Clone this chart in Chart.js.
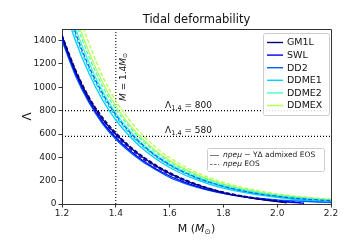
<!DOCTYPE html>
<html>
<head>
<meta charset="utf-8">
<script src="https://cdn.jsdelivr.net/npm/chart.js@4.4.0/dist/chart.umd.min.js"></script>
<style>
  html, body { margin: 0; padding: 0; background: #fff; }
  #wrap { width: 351px; height: 248px; }
</style>
</head>
<body>
<div id="wrap"><canvas id="tidal" width="351" height="248"></canvas></div>
<script>
// masses on the common grid
const massGrid = [1.2, 1.25, 1.3, 1.35, 1.4, 1.45, 1.5, 1.55, 1.6, 1.65, 1.7, 1.75, 1.8, 1.85, 1.9, 1.95, 2.0, 2.05, 2.1, 2.15, 2.2];
const gm1lMass = [1.2, 1.25, 1.3, 1.35, 1.4, 1.45, 1.5, 1.55, 1.6, 1.65, 1.7, 1.75, 1.8, 1.85, 1.9, 1.95, 2.0, 2.035];
const swlMass = [1.2, 1.25, 1.3, 1.35, 1.4, 1.45, 1.5, 1.55, 1.6, 1.65, 1.7, 1.75, 1.8, 1.85, 1.9, 1.95, 2.0, 2.05, 2.1];

// Lambda values (solid = admixed, dashed = npeμ)
const gm1lSolid  = [1440, 1140, 905, 730, 600, 490, 400, 325, 262, 210, 166, 129, 98, 73, 52, 35, 21, 10];
const gm1lDashed = [1450, 1155, 920, 745, 612, 500, 410, 333, 270, 216, 171, 133, 102, 76, 54, 37, 23, 12];
const swlSolid   = [1420, 1120, 885, 705, 570, 462, 373, 300, 240, 192, 152, 119, 92, 70, 52, 37, 25, 15, 6];
const swlDashed  = [1440, 1140, 905, 725, 590, 480, 390, 316, 255, 205, 163, 129, 101, 78, 59, 43, 30, 19, 9];
const dd2Solid   = [1400, 1100, 870, 690, 555, 450, 362, 292, 228, 182, 145, 115, 91, 72, 57, 45, 35, 28, 22, 17, 13];
const dd2Dashed  = [1830, 1470, 1180, 950, 765, 620, 505, 412, 337, 276, 226, 185, 151, 123, 100, 81, 66, 53, 43, 35, 28];
const ddme1Solid  = [1750, 1400, 1120, 895, 720, 583, 473, 385, 313, 255, 208, 169, 137, 111, 89, 71, 56, 43, 32, 22, 14];
const ddme1Dashed = [1800, 1445, 1160, 930, 750, 608, 495, 404, 330, 270, 221, 181, 148, 120, 97, 78, 62, 49, 38, 29, 22];
const ddme2Solid  = [1880, 1510, 1215, 970, 780, 633, 515, 420, 344, 282, 232, 191, 157, 129, 106, 87, 71, 58, 47, 38, 31];
const ddme2Dashed = [1950, 1570, 1265, 1012, 815, 662, 540, 441, 361, 297, 245, 202, 166, 137, 113, 93, 76, 62, 51, 42, 34];
const ddmexSolid  = [2000, 1615, 1305, 1045, 840, 683, 557, 455, 374, 308, 254, 209, 172, 142, 117, 96, 79, 65, 54, 45, 37];
const ddmexDashed = [2100, 1700, 1380, 1100, 885, 722, 590, 482, 397, 328, 271, 224, 185, 153, 127, 105, 87, 72, 60, 50, 42];

const modelNames = ["GM1L", "SWL", "DD2", "DDME1", "DDME2", "DDMEX"];
const modelColors = ["#00007f", "#0000f0", "#0061ff", "#00d1ff", "#42ffbd", "#b3ff4d"];

const xTicks = [1.2, 1.4, 1.6, 1.8, 2.0, 2.2];
const yTicks = [0, 200, 400, 600, 800, 1000, 1200, 1400];
const lambdaRefs = [800, 580];
const massRef = 1.4;

const pts = (ms, vs) => vs.map((v, i) => ({ x: ms[i], y: v }));

function curve(label, ms, vs, color, dashed) {
  return {
    label,
    data: pts(ms, vs),
    borderColor: color,
    borderWidth: 1.3,
    borderDash: dashed ? [4, 2] : [],
    pointRadius: 0,
    fill: false,
    cubicInterpolationMode: "monotone"
  };
}

function refLine(data) {
  return {
    label: "ref",
    data,
    borderColor: "#000",
    borderWidth: 1.1,
    borderDash: [1, 2],
    pointRadius: 0,
    fill: false
  };
}

const datasets = [
  curve("GM1L", gm1lMass, gm1lSolid, modelColors[0], false),
  curve("GM1L npeμ", gm1lMass, gm1lDashed, modelColors[0], true),
  curve("SWL", swlMass, swlSolid, modelColors[1], false),
  curve("SWL npeμ", swlMass, swlDashed, modelColors[1], true),
  curve("DD2", massGrid, dd2Solid, modelColors[2], false),
  curve("DD2 npeμ", massGrid, dd2Dashed, modelColors[2], true),
  curve("DDME1", massGrid, ddme1Solid, modelColors[3], false),
  curve("DDME1 npeμ", massGrid, ddme1Dashed, modelColors[3], true),
  curve("DDME2", massGrid, ddme2Solid, modelColors[4], false),
  curve("DDME2 npeμ", massGrid, ddme2Dashed, modelColors[4], true),
  curve("DDMEX", massGrid, ddmexSolid, modelColors[5], false),
  curve("DDMEX npeμ", massGrid, ddmexDashed, modelColors[5], true),
  refLine([{ x: 1.2, y: lambdaRefs[0] }, { x: 2.2, y: lambdaRefs[0] }]),
  refLine([{ x: 1.2, y: lambdaRefs[1] }, { x: 2.2, y: lambdaRefs[1] }]),
  refLine([{ x: massRef, y: 0 }, { x: massRef, y: 1500 }])
];

const FONT = "'DejaVu Sans', sans-serif";

// draws "Λ_1.4 = value"
function lambdaLabel(ctx, x, y, value) {
  ctx.font = `9px ${FONT}`;
  ctx.textAlign = "left";
  ctx.textBaseline = "alphabetic";
  ctx.fillText("Λ", x, y);
  let w = ctx.measureText("Λ").width;
  ctx.font = `6.5px ${FONT}`;
  ctx.fillText("1.4", x + w, y + 2);
  w += ctx.measureText("1.4").width;
  ctx.font = `9px ${FONT}`;
  ctx.fillText(" = " + value, x + w, y);
}

function roundBox(ctx, x, y, w, h) {
  ctx.beginPath();
  ctx.roundRect(x, y, w, h, 2);
  ctx.fillStyle = "rgba(255,255,255,0.85)";
  ctx.fill();
  ctx.strokeStyle = "#cccccc";
  ctx.lineWidth = 1;
  ctx.stroke();
}

const decorPlugin = {
  id: "decor",
  afterDraw(chart) {
    const { ctx, chartArea: a, scales } = chart;
    ctx.save();

    // top and right spines
    ctx.strokeStyle = "#333";
    ctx.lineWidth = 1;
    ctx.beginPath();
    ctx.moveTo(a.left, a.top + 0.5);
    ctx.lineTo(a.right + 0.5, a.top + 0.5);
    ctx.lineTo(a.right + 0.5, a.bottom);
    ctx.stroke();

    ctx.fillStyle = "#111";
    // title
    ctx.font = `11.5px ${FONT}`;
    ctx.textAlign = "center";
    ctx.textBaseline = "middle";
    ctx.fillText("Tidal deformability", (a.left + a.right) / 2, 20);

    // x title: M (M_⊙)
    ctx.font = `11px ${FONT}`;
    ctx.textAlign = "left";
    ctx.textBaseline = "alphabetic";
    const cx = (a.left + a.right) / 2;
    const parts = [["M (", `11px ${FONT}`, 0], ["M", `italic 11px ${FONT}`, 0], ["⊙", `7.5px ${FONT}`, 2], [")", `11px ${FONT}`, 0]];
    let tw = 0;
    parts.forEach(p => { ctx.font = p[1]; tw += ctx.measureText(p[0]).width; });
    let px = cx - tw / 2;
    parts.forEach(p => { ctx.font = p[1]; ctx.fillText(p[0], px, 232 + p[2]); px += ctx.measureText(p[0]).width; });

    // y title
    ctx.save();
    ctx.translate(28, (a.top + a.bottom) / 2);
    ctx.rotate(-Math.PI / 2);
    ctx.font = `12px ${FONT}`;
    ctx.textAlign = "center";
    ctx.textBaseline = "middle";
    ctx.fillText("Λ", 0, 0);
    ctx.restore();

    // reference labels
    const lx = scales.x.getPixelForValue(1.583);
    lambdaLabel(ctx, lx, scales.y.getPixelForValue(lambdaRefs[0]) - 3, lambdaRefs[0]);
    lambdaLabel(ctx, lx, scales.y.getPixelForValue(lambdaRefs[1]) - 3, lambdaRefs[1]);

    // vertical label M = 1.4M_⊙
    ctx.save();
    ctx.translate(scales.x.getPixelForValue(massRef) + 8, 101);
    ctx.rotate(-Math.PI / 2);
    ctx.textBaseline = "middle";
    ctx.textAlign = "left";
    ctx.font = `italic 9px ${FONT}`;
    ctx.fillText("M", 0, 0);
    let vx = ctx.measureText("M").width;
    ctx.font = `9px ${FONT}`;
    ctx.fillText(" = 1.4", vx, 0);
    vx += ctx.measureText(" = 1.4").width;
    ctx.font = `italic 9px ${FONT}`;
    ctx.fillText("M", vx, 0);
    vx += ctx.measureText("M").width;
    ctx.font = `6px ${FONT}`;
    ctx.fillText("⊙", vx, 2);
    ctx.restore();

    // model legend
    roundBox(ctx, 263.5, 33.5, 66, 82);
    modelNames.forEach((name, i) => {
      const y = 42.5 + i * 12.6;
      ctx.strokeStyle = modelColors[i];
      ctx.lineWidth = 1.4;
      ctx.setLineDash([]);
      ctx.beginPath();
      ctx.moveTo(267, y);
      ctx.lineTo(283, y);
      ctx.stroke();
      ctx.fillStyle = "#111";
      ctx.font = `9.5px ${FONT}`;
      ctx.textAlign = "left";
      ctx.textBaseline = "middle";
      ctx.fillText(name, 287, y + 0.5);
    });

    // line style legend
    roundBox(ctx, 207.5, 148.5, 117, 23);
    const styles = [[[], "npeμ", " − YΔ admixed EOS", 155.5], [[2.5, 1.5], "npeμ", " EOS", 164.5]];
    styles.forEach(s => {
      ctx.strokeStyle = "#777";
      ctx.lineWidth = 1;
      ctx.setLineDash(s[0]);
      ctx.beginPath();
      ctx.moveTo(210, s[3]);
      ctx.lineTo(219, s[3]);
      ctx.stroke();
      ctx.setLineDash([]);
      ctx.fillStyle = "#222";
      ctx.textBaseline = "middle";
      ctx.textAlign = "left";
      ctx.font = `italic 7.5px ${FONT}`;
      ctx.fillText(s[1], 223, s[3]);
      const w = ctx.measureText(s[1]).width;
      ctx.font = `7.5px ${FONT}`;
      ctx.fillText(s[2], 223 + w, s[3]);
    });

    ctx.restore();
  }
};

new Chart(document.getElementById("tidal"), {
  type: "line",
  data: { datasets },
  options: {
    responsive: false,
    animation: false,
    devicePixelRatio: 1,
    layout: { padding: { top: 29, right: 20, left: 0, bottom: 0 } },
    plugins: { legend: { display: false }, tooltip: { enabled: false }, title: { display: false } },
    scales: {
      x: {
        type: "linear",
        min: 1.2,
        max: 2.2,
        afterBuildTicks: s => { s.ticks = xTicks.map(v => ({ value: v })); },
        afterFit: s => { s.height = 44; },
        ticks: { font: { family: FONT, size: 9 }, color: "#222", padding: 1, maxRotation: 0, callback: v => v.toFixed(1) },
        grid: { drawOnChartArea: false, drawTicks: true, tickLength: 3.5, color: "#333" },
        border: { display: true, color: "#333", width: 1 }
      },
      y: {
        type: "linear",
        min: 0,
        max: 1500,
        afterBuildTicks: s => { s.ticks = yTicks.map(v => ({ value: v })); },
        afterFit: s => { s.width = 62; },
        ticks: { font: { family: FONT, size: 9 }, color: "#222", padding: 2, callback: v => String(v) },
        grid: { drawOnChartArea: false, drawTicks: true, tickLength: 3.5, color: "#333" },
        border: { display: true, color: "#333", width: 1 }
      }
    }
  },
  plugins: [decorPlugin]
});
</script>
</body>
</html>
